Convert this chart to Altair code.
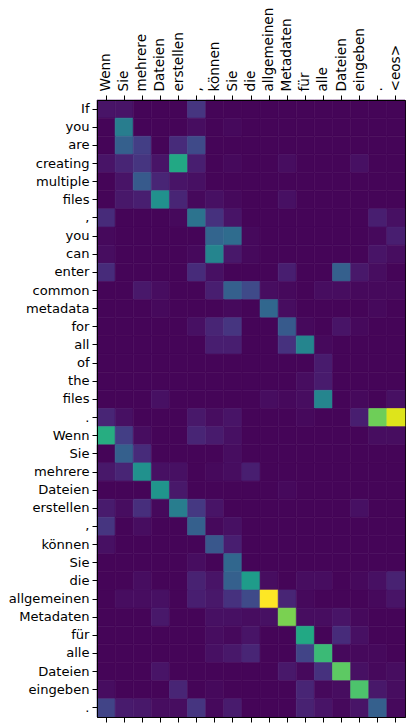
import altair as alt
import pandas as pd

x_labels = ["Wenn", "Sie", "mehrere", "Dateien", "erstellen", ",", "können", "Sie",
            "die", "allgemeinen", "Metadaten", "für", "alle", "Dateien", "eingeben", ".", "<eos>"]

y_labels = ["If", "you", "are", "creating", "multiple", "files", ",", "you", "can", "enter",
            "common", "metadata", "for", "all", "of", "the", "files", ".",
            "Wenn", "Sie", "mehrere", "Dateien", "erstellen", ",", "können", "Sie", "die",
            "allgemeinen", "Metadaten", "für", "alle", "Dateien", "eingeben", "."]

# attention weights, one row per target token (columns follow x_labels)
weights = [
    [0.05, 0.05, 0.01, 0.01, 0.01, 0.15, 0.01, 0.01, 0.01, 0.01, 0.01, 0.01, 0.01, 0.01, 0.01, 0.01, 0.01],
    [0.01, 0.42, 0.01, 0.01, 0.01, 0.03, 0.01, 0.02, 0.01, 0.01, 0.01, 0.01, 0.01, 0.01, 0.01, 0.01, 0.01],
    [0.01, 0.30, 0.18, 0.01, 0.12, 0.22, 0.01, 0.01, 0.01, 0.01, 0.01, 0.01, 0.01, 0.01, 0.01, 0.01, 0.01],
    [0.05, 0.10, 0.15, 0.05, 0.60, 0.08, 0.01, 0.02, 0.01, 0.01, 0.03, 0.01, 0.01, 0.01, 0.04, 0.01, 0.01],
    [0.01, 0.05, 0.28, 0.10, 0.05, 0.04, 0.01, 0.01, 0.01, 0.01, 0.01, 0.01, 0.01, 0.01, 0.01, 0.01, 0.01],
    [0.01, 0.06, 0.08, 0.50, 0.10, 0.02, 0.04, 0.02, 0.01, 0.01, 0.04, 0.01, 0.01, 0.01, 0.01, 0.01, 0.01],
    [0.12, 0.01, 0.01, 0.01, 0.02, 0.38, 0.14, 0.05, 0.01, 0.01, 0.01, 0.01, 0.01, 0.01, 0.01, 0.08, 0.04],
    [0.02, 0.01, 0.01, 0.01, 0.01, 0.01, 0.32, 0.35, 0.02, 0.01, 0.01, 0.01, 0.01, 0.01, 0.01, 0.02, 0.08],
    [0.03, 0.01, 0.01, 0.01, 0.01, 0.02, 0.45, 0.06, 0.02, 0.01, 0.01, 0.01, 0.01, 0.01, 0.01, 0.05, 0.03],
    [0.12, 0.01, 0.01, 0.01, 0.01, 0.12, 0.04, 0.01, 0.01, 0.01, 0.08, 0.01, 0.01, 0.30, 0.06, 0.03, 0.01],
    [0.01, 0.01, 0.06, 0.03, 0.01, 0.01, 0.08, 0.30, 0.22, 0.03, 0.02, 0.01, 0.03, 0.03, 0.02, 0.02, 0.02],
    [0.01, 0.01, 0.01, 0.02, 0.01, 0.01, 0.01, 0.02, 0.01, 0.33, 0.03, 0.01, 0.01, 0.01, 0.01, 0.02, 0.01],
    [0.01, 0.01, 0.01, 0.01, 0.01, 0.04, 0.10, 0.15, 0.01, 0.01, 0.28, 0.02, 0.01, 0.05, 0.02, 0.01, 0.01],
    [0.01, 0.01, 0.01, 0.01, 0.01, 0.01, 0.08, 0.08, 0.01, 0.01, 0.14, 0.45, 0.02, 0.01, 0.01, 0.01, 0.01],
    [0.01, 0.01, 0.01, 0.01, 0.01, 0.01, 0.01, 0.01, 0.01, 0.01, 0.01, 0.01, 0.07, 0.01, 0.01, 0.01, 0.01],
    [0.01, 0.01, 0.01, 0.01, 0.01, 0.01, 0.01, 0.01, 0.01, 0.01, 0.01, 0.03, 0.07, 0.01, 0.01, 0.01, 0.01],
    [0.01, 0.01, 0.01, 0.04, 0.01, 0.01, 0.01, 0.01, 0.01, 0.03, 0.02, 0.03, 0.45, 0.01, 0.02, 0.01, 0.04],
    [0.10, 0.04, 0.01, 0.01, 0.01, 0.06, 0.03, 0.05, 0.01, 0.01, 0.01, 0.02, 0.01, 0.01, 0.08, 0.78, 0.95],
    [0.62, 0.18, 0.03, 0.01, 0.01, 0.10, 0.07, 0.04, 0.01, 0.01, 0.01, 0.01, 0.01, 0.01, 0.01, 0.03, 0.03],
    [0.01, 0.30, 0.12, 0.01, 0.01, 0.01, 0.01, 0.03, 0.01, 0.01, 0.01, 0.01, 0.01, 0.01, 0.01, 0.01, 0.01],
    [0.06, 0.10, 0.50, 0.04, 0.04, 0.01, 0.02, 0.03, 0.08, 0.01, 0.01, 0.01, 0.01, 0.01, 0.01, 0.01, 0.01],
    [0.01, 0.01, 0.01, 0.52, 0.06, 0.01, 0.01, 0.01, 0.01, 0.01, 0.02, 0.01, 0.01, 0.01, 0.01, 0.01, 0.01],
    [0.07, 0.03, 0.13, 0.02, 0.42, 0.16, 0.05, 0.01, 0.01, 0.01, 0.01, 0.01, 0.01, 0.01, 0.04, 0.01, 0.01],
    [0.15, 0.01, 0.03, 0.01, 0.01, 0.30, 0.02, 0.04, 0.01, 0.01, 0.01, 0.01, 0.01, 0.01, 0.01, 0.01, 0.01],
    [0.04, 0.01, 0.01, 0.01, 0.01, 0.01, 0.27, 0.08, 0.01, 0.01, 0.01, 0.01, 0.01, 0.01, 0.01, 0.01, 0.01],
    [0.01, 0.01, 0.01, 0.01, 0.01, 0.03, 0.01, 0.33, 0.01, 0.01, 0.01, 0.01, 0.01, 0.01, 0.01, 0.01, 0.01],
    [0.01, 0.01, 0.03, 0.01, 0.01, 0.09, 0.05, 0.30, 0.55, 0.03, 0.01, 0.03, 0.03, 0.01, 0.02, 0.04, 0.09],
    [0.01, 0.03, 0.03, 0.04, 0.01, 0.08, 0.06, 0.14, 0.22, 1.00, 0.10, 0.02, 0.01, 0.01, 0.01, 0.02, 0.05],
    [0.01, 0.01, 0.01, 0.06, 0.01, 0.01, 0.04, 0.04, 0.03, 0.04, 0.80, 0.03, 0.03, 0.05, 0.02, 0.01, 0.01],
    [0.01, 0.01, 0.01, 0.01, 0.01, 0.01, 0.03, 0.02, 0.05, 0.01, 0.01, 0.60, 0.01, 0.12, 0.04, 0.01, 0.01],
    [0.01, 0.01, 0.01, 0.01, 0.01, 0.01, 0.04, 0.06, 0.10, 0.01, 0.01, 0.20, 0.68, 0.02, 0.02, 0.02, 0.01],
    [0.01, 0.01, 0.01, 0.05, 0.01, 0.01, 0.01, 0.01, 0.01, 0.01, 0.06, 0.02, 0.14, 0.75, 0.04, 0.02, 0.03],
    [0.03, 0.01, 0.01, 0.01, 0.10, 0.01, 0.02, 0.01, 0.01, 0.01, 0.01, 0.10, 0.02, 0.03, 0.72, 0.06, 0.03],
    [0.20, 0.07, 0.06, 0.03, 0.03, 0.15, 0.02, 0.07, 0.01, 0.01, 0.01, 0.09, 0.05, 0.02, 0.05, 0.30, 0.02],
]

rows = []
for r, row in enumerate(weights):
    for c, v in enumerate(row):
        rows.append({"r": r, "c": c, "v": v})
df = pd.DataFrame(rows)

xlab_js = "[" + ",".join('"' + s + '"' for s in x_labels) + "]"
ylab_js = "[" + ",".join('"' + s + '"' for s in y_labels) + "]"

font = "DejaVu Sans"

xscale = alt.Scale(paddingInner=0, paddingOuter=0)
yscale = alt.Scale(paddingInner=0, paddingOuter=0)
cscale = alt.Scale(scheme="viridis", domain=[0, 1])

top_axis = alt.Axis(orient="top", title=None, labelAngle=-90, labelAlign="left",
                    labelBaseline="middle", labelExpr=xlab_js + "[datum.value]",
                    labelFont=font, labelFontSize=13.6, labelColor="black",
                    tickColor="black", tickSize=5, labelPadding=4, grid=False,
                    domainColor="black", labelOverlap=False, labelBound=False)
bottom_axis = alt.Axis(orient="bottom", title=None, labels=False, tickColor="black",
                       tickSize=5, domainColor="black", grid=False)
left_axis = alt.Axis(orient="left", title=None, labelExpr=ylab_js + "[datum.value]",
                     labelFont=font, labelFontSize=13.1, labelColor="black",
                     tickColor="black", tickSize=5, labelPadding=3, grid=False,
                     domainColor="black", labelOverlap=False)

heat = alt.Chart(df).mark_rect(strokeWidth=0.6).encode(
    x=alt.X("c:O", axis=top_axis, scale=xscale),
    y=alt.Y("r:O", axis=left_axis, scale=yscale),
    color=alt.Color("v:Q", scale=cscale, legend=None),
    stroke=alt.Stroke("v:Q", scale=cscale, legend=None),
)
ticks_bottom = alt.Chart(df).mark_rect(opacity=0).encode(
    x=alt.X("c:O", axis=bottom_axis, scale=xscale),
)

chart = alt.layer(heat, ticks_bottom).resolve_axis(x="independent").properties(
    width=308, height=617,
    autosize=alt.AutoSizeParams(type="none"),
    padding={"left": 89, "top": 92, "right": 2, "bottom": 10},
).configure_view(stroke="black", strokeWidth=1).configure_axis(grid=False)

chart.save("out.html", embed_options={"renderer": "svg", "actions": False})
